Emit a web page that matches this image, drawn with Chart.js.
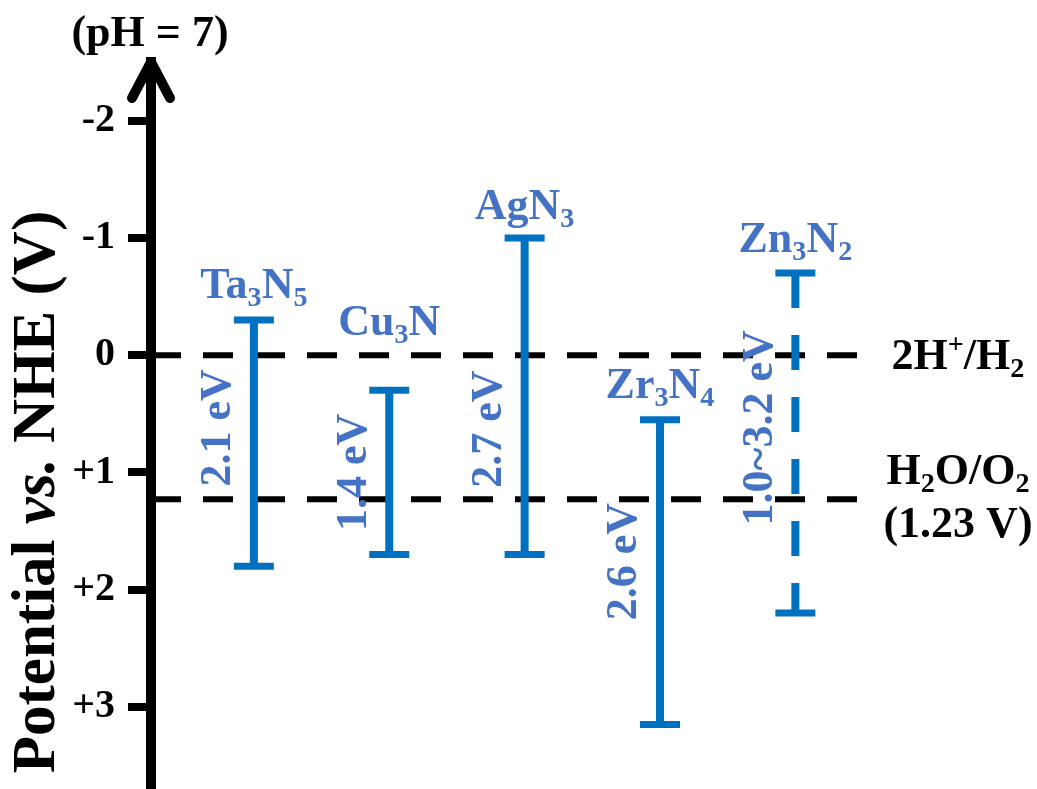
<!DOCTYPE html>
<html>
<head>
<meta charset="utf-8">
<script src="https://cdn.jsdelivr.net/npm/chart.js@4.4.0/dist/chart.umd.min.js"></script>
<style>
  html, body { margin: 0; padding: 0; background: #fff; }
  #wrap { width: 1037px; height: 789px; position: relative; }
</style>
</head>
<body>
<div id="wrap"><canvas id="bands"></canvas></div>
<script>
// band edges vs. NHE at pH 7 (V)
const materials = ['Ta3N5', 'Cu3N', 'AgN3', 'Zr3N4', 'Zn3N2'];
const conductionBand = [-0.3, 0.3, -1.0, 0.55, -0.7];
const valenceBand = [1.8, 1.7, 1.7, 3.15, 2.2];
const gapLabels = ['2.1 eV', '1.4 eV', '2.7 eV', '2.6 eV', '1.0~3.2 eV'];
const uncertain = [false, false, false, false, true];

// redox levels
const redoxLevels = [0, 1.23];

const tickValues = [-2, -1, 0, 1, 2, 3];

// layout
const yMin = -2.5, yMax = 3.7;
const xMin = 0.24, xMax = 6.785;
const refLineEnd = 5.47;
const nameLift = [22, 55, 19, 22, 21];
const gapLabelAt = [0.62, 1.0, 0.63, 1.76, 0.62];

const BAR = '#0070C0';
const TEXT_BLUE = '#4472C4';
const SERIF = '"Liberation Serif", "Times New Roman", serif';

// text made of runs: [str, 'n' | 'sub' | 'sup']
function richWidth(ctx, runs, size) {
    let w = 0;
    runs.forEach(([s, m]) => {
        const fs = m === 'n' ? size : size * 0.64;
        ctx.font = 'bold ' + fs + 'px ' + SERIF;
        w += ctx.measureText(s).width;
    });
    return w;
}

function drawRich(ctx, runs, x, y, size, color) {
    const w = richWidth(ctx, runs, size);
    let cx = x - w / 2;
    ctx.fillStyle = color;
    ctx.textAlign = 'left';
    ctx.textBaseline = 'alphabetic';
    runs.forEach(([s, m]) => {
        const fs = m === 'n' ? size : size * 0.64;
        ctx.font = 'bold ' + fs + 'px ' + SERIF;
        let dy = 0;
        if (m === 'sub') dy = size * 0.18;
        if (m === 'sup') dy = -size * 0.36;
        ctx.fillText(s, cx, y + dy);
        cx += ctx.measureText(s).width;
    });
}

// 'Ta3N5' -> digits become subscripts
function formulaRuns(name) {
    return name.match(/\d+|\D+/g).map(p => [p, /\d/.test(p) ? 'sub' : 'n']);
}

const bandSets = materials.map((m, i) => ({
    label: m,
    data: [{ x: i + 1, y: conductionBand[i] }, { x: i + 1, y: valenceBand[i] }],
    borderColor: BAR,
    borderWidth: 8,
    borderDash: uncertain[i] ? [35, 27] : [],
    pointStyle: 'line',
    pointRadius: 20,
    pointBorderWidth: 7,
    pointBorderColor: BAR,
    order: 0
}));

const redoxSets = redoxLevels.map(v => ({
    label: 'redox ' + v,
    data: [{ x: xMin, y: v }, { x: refLineEnd, y: v }],
    borderColor: '#000',
    borderWidth: 6,
    borderDash: [30, 22],
    pointRadius: 0,
    order: 1
}));

const annotations = {
    id: 'annotations',
    afterDraw(chart) {
        const { ctx, chartArea } = chart;
        const xs = chart.scales.x, ys = chart.scales.y;
        ctx.save();

        // arrow head on the potential axis
        const ax = chartArea.left;
        ctx.strokeStyle = '#000';
        ctx.lineWidth = 10;
        ctx.lineCap = 'round';
        ctx.lineJoin = 'round';
        ctx.beginPath();
        ctx.moveTo(ax - 19, chartArea.top + 36);
        ctx.lineTo(ax, chartArea.top);
        ctx.lineTo(ax + 19, chartArea.top + 36);
        ctx.stroke();

        // material names and band gaps
        materials.forEach((m, i) => {
            const px = xs.getPixelForValue(i + 1);
            const top = ys.getPixelForValue(conductionBand[i]);
            drawRich(ctx, formulaRuns(m), px, top - nameLift[i], 44, TEXT_BLUE);

            ctx.save();
            ctx.translate(px - 35, ys.getPixelForValue(gapLabelAt[i]));
            ctx.rotate(-Math.PI / 2);
            ctx.font = 'bold 44px ' + SERIF;
            ctx.fillStyle = TEXT_BLUE;
            ctx.textAlign = 'center';
            ctx.textBaseline = 'middle';
            ctx.fillText(gapLabels[i], 0, 0);
            ctx.restore();
        });

        // redox couple labels
        const lx = 958;
        const h2 = ys.getPixelForValue(redoxLevels[0]);
        drawRich(ctx, [['2H', 'n'], ['+', 'sup'], ['/H', 'n'], ['2', 'sub']], lx, h2 + 14, 44, '#000');
        const o2 = ys.getPixelForValue(redoxLevels[1]);
        drawRich(ctx, [['H', 'n'], ['2', 'sub'], ['O/O', 'n'], ['2', 'sub']], lx, o2 - 15, 44, '#000');
        drawRich(ctx, [['(1.23 V)', 'n']], lx, o2 + 38, 44, '#000');

        // pH note
        drawRich(ctx, [['(pH = 7)', 'n']], 150, 46, 44, '#000');

        // axis title with italic "vs."
        ctx.save();
        ctx.translate(38, 492);
        ctx.rotate(-Math.PI / 2);
        const runs = [['Potential ', 'bold'], ['vs.', 'italic bold'], [' NHE (V)', 'bold']];
        let total = 0;
        runs.forEach(([s, f]) => { ctx.font = f + ' 61px ' + SERIF; total += ctx.measureText(s).width; });
        let cx = -total / 2;
        ctx.fillStyle = '#000';
        ctx.textBaseline = 'middle';
        ctx.textAlign = 'left';
        runs.forEach(([s, f]) => {
            ctx.font = f + ' 61px ' + SERIF;
            ctx.fillText(s, cx, 0);
            cx += ctx.measureText(s).width;
        });
        ctx.restore();

        ctx.restore();
    }
};

new Chart(document.getElementById('bands'), {
    type: 'line',
    data: { datasets: bandSets.concat(redoxSets) },
    options: {
        responsive: true,
        maintainAspectRatio: false,
        animation: false,
        events: [],
        layout: { autoPadding: false, padding: { top: 62, bottom: 0, left: 0, right: 0 } },
        plugins: { legend: { display: false }, tooltip: { enabled: false } },
        scales: {
            x: { type: 'linear', min: xMin, max: xMax, display: false },
            y: {
                type: 'linear',
                reverse: true,
                min: yMin,
                max: yMax,
                afterFit(scale) {
                    scale.width = 151;
                    scale.paddingTop = 0;
                    scale.paddingBottom = 0;
                },
                afterBuildTicks(scale) { scale.ticks = tickValues.map(v => ({ value: v })); },
                grid: { drawOnChartArea: false, drawTicks: true, tickLength: 23, lineWidth: 8, color: '#000' },
                border: { display: true, width: 10, color: '#000' },
                ticks: {
                    padding: 13,
                    color: '#000',
                    font: { family: SERIF, size: 40, weight: 'bold' },
                    callback: v => (v > 0 ? '+' + v : String(v))
                }
            }
        }
    },
    plugins: [annotations]
});
</script>
</body>
</html>
